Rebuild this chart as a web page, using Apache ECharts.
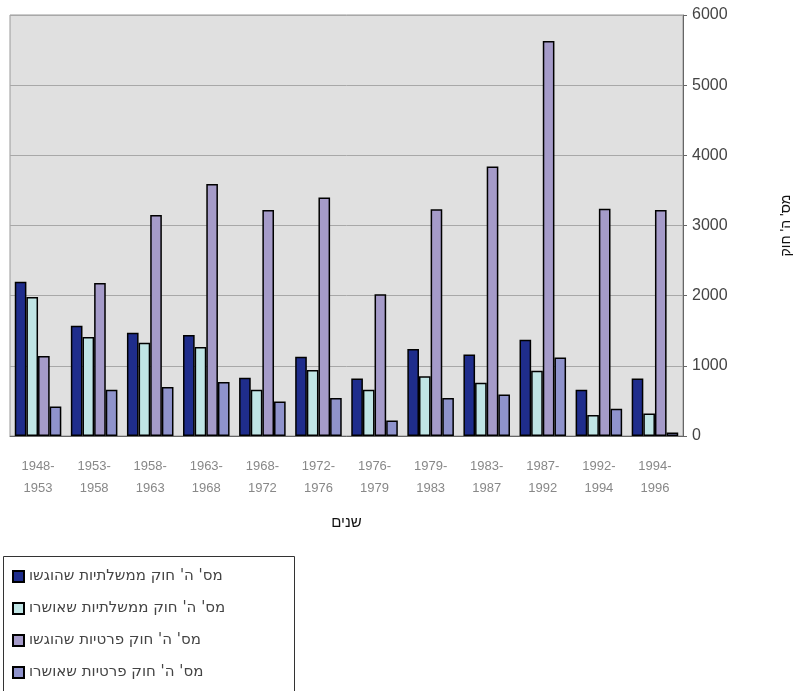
<!DOCTYPE html>
<html>
<head>
<meta charset="utf-8">
<script src="https://cdn.jsdelivr.net/npm/echarts@6/dist/echarts.min.js"></script>
<style>
html,body{margin:0;padding:0;background:#fff;}
#c{width:801px;height:691px;}
</style>
</head>
<body>
<div id="c"></div>
<script>
var categories = ['1948-1953','1953-1958','1958-1963','1963-1968','1968-1972','1972-1976','1976-1979','1979-1983','1983-1987','1987-1992','1992-1994','1994-1996'];
var seriesNames = ["מס' ה' חוק ממשלתיות שהוגשו", "מס' ה' חוק ממשלתיות שאושרו", "מס' ה' חוק פרטיות שהוגשו", "מס' ה' חוק פרטיות שאושרו"];
var govSubmitted = [2200, 1570, 1470, 1440, 830, 1130, 820, 1240, 1160, 1370, 660, 820];
var govApproved = [1980, 1410, 1330, 1270, 660, 940, 660, 850, 760, 930, 300, 320];
var privSubmitted = [1140, 2180, 3150, 3590, 3220, 3400, 2020, 3230, 3840, 5630, 3240, 3220];
var privApproved = [420, 660, 700, 770, 490, 540, 220, 540, 590, 1120, 390, 50];
var yTicks = [0, 1000, 2000, 3000, 4000, 5000, 6000];
var colors = ['#1f2d8c', '#c0e5e5', '#a59bc9', '#8f93cc'];
var font = "'Liberation Sans', 'DejaVu Sans', Arial, sans-serif";
var wideFont = "'DejaVu Sans', 'Liberation Sans', sans-serif";

var chart = echarts.init(document.getElementById('c'), null, {renderer: 'canvas'});
var values = [govSubmitted, govApproved, privSubmitted, privApproved];
var series = values.map(function (v, i) {
  return {
    name: seriesNames[i],
    type: 'bar',
    data: v,
    barGap: '0%',
    barCategoryGap: '17%',
    itemStyle: {color: colors[i], borderColor: '#000', borderWidth: 1.5},
    emphasis: {disabled: true}
  };
});

chart.setOption({
  backgroundColor: '#fff',
  animation: false,
  textStyle: {fontFamily: font},
  grid: {
    left: 10, right: 112, top: 15, bottom: 255,
    show: true, backgroundColor: '#e0e0e0', borderColor: '#999', borderWidth: 1
  },
  graphic: [{
    type: 'rect',
    shape: {x: 3.5, y: 556.5, width: 291, height: 150},
    style: {fill: '#fff', stroke: '#333', lineWidth: 1},
    z: -1
  }],
  legend: {
    orient: 'vertical',
    left: 12, top: 569,
    padding: 0,
    itemWidth: 11, itemHeight: 11,
    itemGap: 17,
    icon: 'rect',
    textStyle: {fontSize: 15, color: '#444', fontFamily: wideFont},
    data: seriesNames
  },
  xAxis: {
    type: 'category',
    data: categories,
    name: 'שנים',
    nameLocation: 'middle',
    nameGap: 79,
    nameTextStyle: {fontSize: 15, color: '#111', fontFamily: font},
    axisLine: {show: true, lineStyle: {color: '#666'}},
    axisTick: {show: false},
    axisLabel: {
      interval: 0,
      margin: 19,
      fontSize: 13,
      lineHeight: 22,
      color: '#888',
      formatter: function (v) { var p = v.split('-'); return p[0] + '-\n' + p[1]; }
    }
  },
  yAxis: {
    type: 'value',
    position: 'right',
    min: yTicks[0], max: yTicks[yTicks.length - 1], interval: 1000,
    name: "מס' ה' חוק",
    nameLocation: 'middle',
    nameRotate: 90,
    nameGap: 96,
    nameTextStyle: {fontSize: 14, color: '#111', fontFamily: font},
    axisLine: {show: true, lineStyle: {color: '#666'}},
    axisTick: {show: true, length: 4, lineStyle: {color: '#666'}},
    axisLabel: {fontSize: 16, color: '#444', margin: 9, formatter: function (v) { return String(v); }},
    splitLine: {show: true, lineStyle: {color: '#a8a8a8', width: 1}}
  },
  series: series
});
</script>
</body>
</html>
